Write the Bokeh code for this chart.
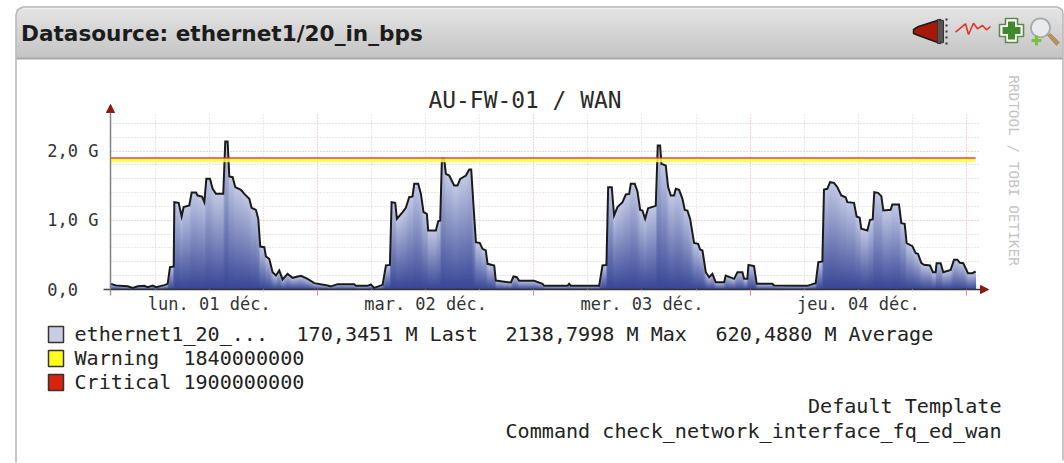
import math
from bokeh.plotting import figure
from bokeh.layouts import column
from bokeh.embed import file_html
from bokeh.resources import INLINE
from bokeh.core.properties import value
from bokeh.models import Range1d, FixedTicker, Grid, LinearAxis

hours = [1.11,1.66,2.96,3.51,4.07,4.80,5.17,5.73,6.10,7.02,7.39,7.65,8.06,8.13,8.61,8.94,9.16,9.79,10.05,10.53,
10.72,11.20,11.46,11.68,12.08,12.38,12.75,13.56,13.78,14.04,14.23,14.60,14.89,15.52,15.89,16.45,16.70,17.18,17.44,17.66,
18.11,18.29,18.66,19.03,19.40,19.77,20.14,20.69,21.25,22.17,22.91,23.65,25.13,25.5,26.24,28.09,28.27,29.57,29.93,30.30,
31.23,31.60,32.04,32.23,32.63,32.82,33.45,33.81,34.18,34.55,34.74,35.18,35.48,35.77,36.14,36.29,37.14,37.40,37.62,37.81,
38.06,38.25,38.62,39.17,39.54,39.84,40.47,40.84,41.06,41.32,41.58,42.02,42.31,42.68,42.87,43.61,43.79,44.53,45.46,45.75,
46.12,46.38,48.04,48.97,49.15,51.00,51.74,51.92,52.11,55.25,55.62,56.06,56.25,56.65,56.91,57.28,57.84,58.21,58.58,58.76,
59.20,59.50,59.80,60.05,60.35,60.68,61.53,61.75,62.01,62.16,62.64,62.90,63.20,63.56,63.75,64.12,64.49,64.75,65.04,65.34,
65.78,66.23,66.45,66.71,67.08,67.45,67.81,68.18,69.11,69.29,70.22,70.59,71.14,71.33,71.69,71.81,72.43,72.73,74.47,74.65,
78.35,79.27,79.56,80.01,80.19,80.56,80.86,81.30,81.67,82.11,82.59,82.78,83.52,83.81,84.15,84.33,85.00,85.29,85.59,85.77,
86.18,86.55,86.77,87.58,87.77,88.51,88.77,89.14,89.36,89.99,90.36,90.62,90.98,91.28,91.95,92.28,92.57,92.68,93.13,93.42,
94.24,94.61,94.98,95.27,95.64,96.16,96.64,97.01]
bps_m = [82,58,48,24,48,53,34,58,34,63,82,323,332,1262,1252,1055,1190,1214,1402,1402,
1358,1344,1262,1599,1599,1455,1382,1382,2139,2139,1633,1623,1479,1440,1382,1310,1180,1151,1021,621,
612,477,443,250,202,275,145,226,169,197,154,92,58,43,77,77,53,53,72,24,
67,347,356,1262,1252,1021,1118,1180,1334,1344,1527,1527,1382,1118,1093,852,852,987,997,1888,
1888,1671,1647,1503,1503,1599,1647,1734,1734,1199,684,670,588,564,371,347,130,116,101,188,
178,125,125,82,53,53,53,82,53,53,347,356,1479,1479,1069,1190,1262,1373,1382,1527,
1527,1416,1151,1142,1021,1175,1209,2081,2081,1816,1792,1479,1358,1358,1455,1440,1310,1151,1142,1021,
674,660,578,564,250,178,226,106,106,202,154,250,250,154,154,356,337,82,82,58,
53,92,395,405,1445,1455,1551,1541,1479,1358,1334,1262,1252,1055,1036,877,852,1007,1012,1407,
1397,1349,1142,1151,1228,1228,959,949,670,626,525,515,385,356,347,250,250,381,381,250,
284,429,429,385,381,236,236,260]
warning_m = 1840
critical_m = 1900
y_ticks = [0, 1000, 2000]
y_labels = ["0,0\u00a0\u00a0", "1,0 G", "2,0 G"]
y_minor = [200,400,600,800,1200,1400,1600,1800,2200,2400]
day_mid = [12, 36, 60, 84]
day_labels = ["lun. 01 déc.", "mar. 02 déc.", "mer. 03 déc.", "jeu. 04 déc."]
day_ends = [24, 48, 72, 96]
six_hours = [6,12,18,30,36,42,54,60,66,78,84,90]
legend_rows = ["ethernet1_20_...", "Warning\u00a0\u00a01840000000", "Critical 1900000000"]
legend_stats = ["170,3451 M Last", "2138,7998 M Max", "620,4880 M Average"]
swatches = ["#c8cde4", "#ffff1e", "#d8240c"]

MONO = "DejaVu Sans Mono"
W, H = 1064, 463

# ---------- page layer: panel, header, legend, icons (pixel coordinates) ----------
bg = figure(width=W, height=H, output_backend="svg", toolbar_location=None,
            x_range=Range1d(0, W), y_range=Range1d(H, 0), x_axis_location=None, y_axis_location=None,
            min_border=0, min_border_left=0, min_border_right=0, min_border_top=0, min_border_bottom=0)
bg.outline_line_color = None
bg.grid.visible = False
bg.background_fill_color = "white"
bg.border_fill_color = "white"

def text(x, y, s, size, font=MONO, color="#222222", align="left", style="normal", angle=0):
    bg.text([x], [y], text=[s], text_font=value(font), text_font_size=value(size), text_color=color,
            text_align=align, text_baseline="middle", text_font_style=style, angle=angle)
def poly(pts, fill, line=None, lw=1):
    bg.patch([a for a, _ in pts], [b for _, b in pts], fill_color=fill, line_color=line, line_width=lw)

band_y = list(range(8, 57))
for yy in band_y:
    t = (yy - 8) / 48
    g = round(224 - (224 - 188) * t)
    bg.quad(left=[16], right=[1062], top=[yy], bottom=[yy + 1.2], fill_color="#%02x%02x%02x" % (g, g, g), line_color=None)
corner = [(15.5, 462), (15.5, 14), (17, 10), (19, 8), (23, 6.5), (1056, 6.5), (1060, 8), (1062, 10), (1062.5, 14), (1062.5, 460)]
bg.line([a for a, _ in corner], [b for _, b in corner], line_color="#b5b5b5", line_width=1.5)
bg.quad(left=[16], right=[1062], top=[57], bottom=[59], fill_color="#a8a8a8", line_color=None)

text(20.5, 33, "Datasource: ethernet1/20_in_bps", "21.6px", font="DejaVu Sans", style="bold", color="#1c1c1c")
text(524.5, 99, "AU-FW-01 / WAN", "22.9px", align="center", color="#2a2a2a")
text(1013, 170, "RRDTOOL / TOBI OETIKER", "14.4px", align="center", color="#c4c4c4", angle=-math.pi / 2)

for i, (s, c) in enumerate(zip(legend_rows, swatches)):
    yy = 334 + 24 * i
    bg.quad(left=[48], right=[63], top=[yy - 8], bottom=[yy + 8], fill_color=c, line_color="#333333", line_width=1.5)
    text(74, yy - 1, s, "20.1px")
for sx, s in zip([296, 505, 715], legend_stats):
    text(sx, 333, s, "20.1px")
text(1001, 405.5, "Default Template", "20.1px", align="right")
text(1001, 430.5, "Command check_network_interface_fq_ed_wan", "20.1px", align="right")

dark = "#8a1a14"
poly([(110, 104), (114, 112), (106, 112)], dark, dark)
poly([(988, 289), (980, 285), (980, 293)], dark, dark)
bg.line([103, 110], [289, 289], line_color="#444444", line_width=1.5)
bg.line([110, 110], [289, 295], line_color="#999999", line_width=1.5)

poly([(913, 29), (918, 26), (940, 19), (940, 43), (918, 35), (913, 33)], "#a81808", "#1a1a1a", 1.5)
poly([(937, 19), (943, 20), (943, 42), (937, 43)], "#555555", "#333333", 1)
for yy in (18, 24, 30, 36, 42):
    bg.quad(left=[945], right=[947], top=[yy], bottom=[yy + 2], fill_color="#333333", line_color=None)
sq = [(955, 31.7), (965, 23.3), (968, 34), (973, 22.7), (977, 28.3), (982, 25), (986, 29.3), (990, 26)]
bg.line([a for a, _ in sq], [b for _, b in sq], line_color="#e0352e", line_width=1.6)
def plus(cx, cy, r, w, fill, line=None, lw=1):
    poly([(cx - w, cy - r), (cx + w, cy - r), (cx + w, cy - w), (cx + r, cy - w), (cx + r, cy + w), (cx + w, cy + w),
          (cx + w, cy + r), (cx - w, cy + r), (cx - w, cy + w), (cx - r, cy + w), (cx - r, cy - w), (cx - w, cy - w)],
         fill, line, lw)
plus(1011, 30, 12, 6, "#ffffff", "#5a8a48", 1.6)
plus(1011, 30, 9, 3.5, "#3f8a2a")
circle = [(1040 + 9.5 * math.cos(a / 24 * 2 * math.pi), 27.3 + 9.5 * math.sin(a / 24 * 2 * math.pi)) for a in range(24)]
poly(circle, "#e8eaec", "#a8a8a8", 1.8)
poly([(1047, 35), (1050, 33), (1059, 42), (1056, 45)], "#b8935a", "#a07c48", 0.6)
plus(1036, 40, 5, 1.6, "#7bc043")

# ---------- chart layer, transparent, laid over the page layer ----------
p = figure(width=W, height=H, output_backend="svg", toolbar_location=None,
           x_range=Range1d(1.05, 97.55), y_range=Range1d(0, 2558), x_axis_location=None,
           min_border_left=110, min_border_right=84, min_border_top=112, min_border_bottom=174)
p.outline_line_color = None
p.background_fill_color = None
p.border_fill_color = None

for g in p.grid:
    g.visible = False
def grid(dim, ticks, color):
    p.add_layout(Grid(dimension=dim, ticker=FixedTicker(ticks=ticks), grid_line_color=color,
                      grid_line_dash="1 2", grid_line_width=1))
grid(1, y_minor, "#cfcfcf")
grid(0, six_hours, "#d6d6d6")
grid(1, y_ticks, "#e6a9a9")
grid(0, day_ends, "#e6a9a9")

ya = p.yaxis[0]
ya.ticker = FixedTicker(ticks=y_ticks)
ya.major_label_overrides = dict(zip(y_ticks, y_labels))
ya.major_label_text_font = MONO
ya.major_label_text_font_size = "17px"
ya.major_label_text_color = "#333333"
ya.major_tick_out = 0
ya.major_tick_in = 0
ya.minor_tick_line_color = None
ya.major_label_standoff = 12
ya.axis_line_color = "#808080"
ya.axis_line_width = 1.5

xt = LinearAxis(ticker=FixedTicker(ticks=day_ends, minor_ticks=six_hours),
                major_label_text_color=None, major_label_text_font_size="1px",
                major_label_standoff=0, major_tick_in=0, major_tick_out=6, minor_tick_in=0, minor_tick_out=2,
                major_tick_line_color="#e08a8a", minor_tick_line_color="#c0c0c0",
                axis_line_color="#333333", axis_line_width=1.5)
p.add_layout(xt, "below")
xl = LinearAxis(ticker=FixedTicker(ticks=day_mid), major_label_overrides=dict(zip(day_mid, day_labels)),
                major_label_text_font=MONO, major_label_text_font_size="17px", major_label_text_color="#333333",
                major_tick_line_color=None, minor_tick_line_color=None, axis_line_color=None,
                major_tick_in=0, major_tick_out=0, major_label_standoff=-2)
p.add_layout(xl, "below")

BANDS = 32
top_rgb, bottom_rgb = (192, 199, 227), (52, 67, 148)
for k in range(BANDS, 0, -1):
    f = k / BANDS
    c = tuple(round(b + (t - b) * f) for t, b in zip(top_rgb, bottom_rgb))
    p.varea(x=hours, y1=[0] * len(hours), y2=[v * f for v in bps_m], fill_color="#%02x%02x%02x" % c)
p.line(hours, bps_m, line_color="#1a1a1a", line_width=2, line_join="miter")
rule_x = [1.05, 97.0]
p.varea(x=rule_x, y1=[warning_m] * 2, y2=[critical_m] * 2, fill_color="#ffff4a", fill_alpha=0.85)
p.line(rule_x, [critical_m] * 2, line_color="#dd2a20", line_width=1.6, line_alpha=0.85)

page = column(column(bg), column(p, margin=(-H, 0, 0, 0)))
open("out.html", "w").write(file_html(page, INLINE))
